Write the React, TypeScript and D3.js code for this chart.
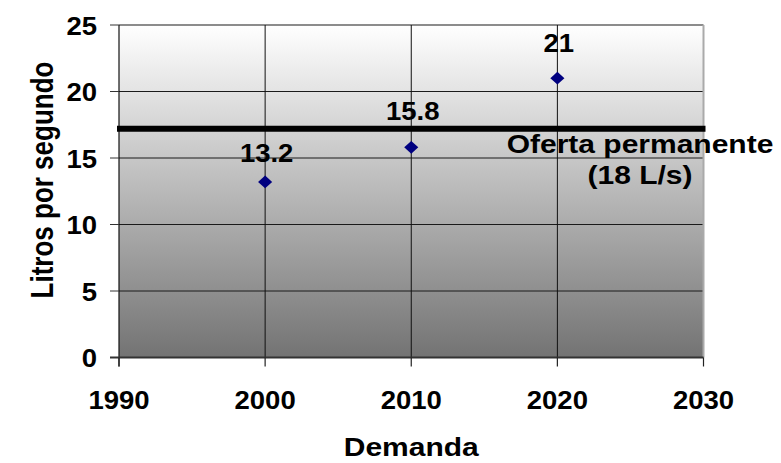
import React from 'react'
import * as d3 from 'd3'

const years = [2000, 2010, 2020]
const demand = [13.2, 15.8, 21]
const yTicks = [0, 5, 10, 15, 20, 25]
const xTicks = [1990, 2000, 2010, 2020, 2030]
const supplyLevel = 17.2
const supplyLabel = ['Oferta permanente', '(18 L/s)']

// label offsets above each point (px), as in the original
const labelGap = [20, 27, 26]

const W = 781
const H = 463
const font = 'Liberation Sans, Arial, sans-serif'
const FS = 25
const numStretch = 1.1
const wordStretch = 1.2

type TProps = { x: number, y: number, sx: number, anchor?: string, children: React.ReactNode }
function T({ x, y, sx, anchor = 'middle', children }: TProps) {
  return (
    <text transform={`translate(${x},${y}) scale(${sx},1)`} textAnchor={anchor}
      fontFamily={font} fontWeight="bold" fontSize={FS} fill="#000">{children}</text>
  )
}

export default function App() {
  const x = d3.scaleLinear().domain([1990, 2030]).range([119, 703.5])
  const y = d3.scaleLinear().domain([0, 25]).range([357.5, 25])
  const diamond = d3.symbol().type(d3.symbolDiamond2).size(105)

  const x0 = x(1990), x1 = x(2030), y0 = y(0), y1 = y(25)
  const ys = y(supplyLevel)

  return (
    <svg width={W} height={H} style={{ position: 'absolute', left: 0, top: 0 }}>
      <defs>
        <linearGradient id="bg" x1="0" y1="0" x2="0" y2="1">
          <stop offset="0" stopColor="#ffffff" />
          <stop offset="1" stopColor="#737373" />
        </linearGradient>
      </defs>
      <rect x={x0} y={y1} width={x1 - x0} height={y0 - y1} fill="url(#bg)" />

      {yTicks.filter(t => t > 0 && t < 25).map(t => (
        <line key={'gy' + t} x1={x0} x2={x1} y1={y(t)} y2={y(t)} stroke="#1a1a1a" strokeWidth={1} />
      ))}
      <line x1={x0} x2={x1} y1={y1} y2={y1} stroke="#666" strokeWidth={1.5} />
      {xTicks.filter(t => t > 1990 && t < 2030).map(t => (
        <line key={'gx' + t} x1={x(t)} x2={x(t)} y1={y1} y2={y0} stroke="#111" strokeWidth={1} />
      ))}
      <line x1={x1} x2={x1} y1={y1} y2={y0} stroke="#aaa" strokeWidth={2} />

      {/* axes */}
      <line x1={x0} x2={x0} y1={y1} y2={y0 + 9} stroke="#111" strokeWidth={1.2} />
      <line x1={x0 - 9} x2={x1} y1={y0} y2={y0} stroke="#333" strokeWidth={2} />
      {yTicks.map(t => (
        <g key={'ty' + t}>
          <line x1={x0 - 9} x2={x0} y1={y(t)} y2={y(t)} stroke="#333" strokeWidth={1} />
          <T x={x0 - 22} y={y(t) + 9.5} sx={numStretch} anchor="end">{t}</T>
        </g>
      ))}
      {xTicks.map(t => (
        <g key={'tx' + t}>
          <line x1={x(t)} x2={x(t)} y1={y0} y2={y0 + 9} stroke="#222" strokeWidth={1.2} />
          <T x={x(t)} y={y0 + 51.5} sx={numStretch}>{t}</T>
        </g>
      ))}

      {/* supply line */}
      <line x1={x0 - 2} x2={x1 + 2} y1={ys} y2={ys} stroke="#000" strokeWidth={6} />
      {supplyLabel.map((s, i) => (
        <T key={s} x={640} y={ys + 24 + i * 31} sx={wordStretch}>{s}</T>
      ))}

      {/* points */}
      {years.map((yr, i) => (
        <g key={yr}>
          <path d={diamond() as string} transform={`translate(${x(yr)},${y(demand[i])}) scale(1.1,1)`} fill="#000080" />
          <T x={x(yr) + 1.5} y={y(demand[i]) - labelGap[i]} sx={numStretch}>{demand[i]}</T>
        </g>
      ))}

      <T x={(x0 + x1) / 2} y={456} sx={wordStretch}>Demanda</T>
      <text transform={`translate(53,180) rotate(-90) scale(1.04,1.28)`} textAnchor="middle"
        fontFamily={font} fontWeight="bold" fontSize={FS}>Litros por segundo</text>
    </svg>
  )
}
